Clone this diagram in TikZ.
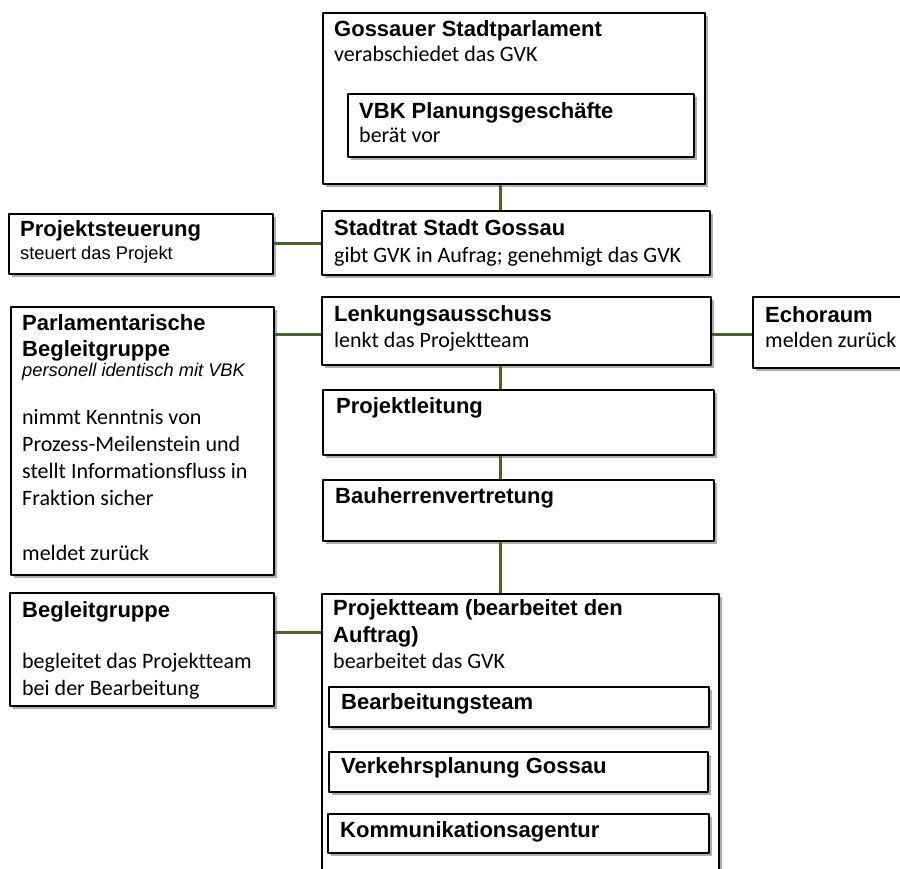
\documentclass[tikz,border=0pt]{standalone}
\usepackage{fontspec}
\setmainfont{Carlito}[Ligatures=NoCommon]
\newfontfamily\arialf{Liberation Sans}[Ligatures=NoCommon]
\usetikzlibrary{shadows}
\definecolor{linkgreen}{RGB}{79,98,40}
\tikzset{
  box/.style={draw, rectangle, line width=1.8pt, fill=white, inner sep=0pt, anchor=north west,
    drop shadow={shadow xshift=3pt, shadow yshift=-3pt, fill=black!45, opacity=.7}},
  head/.style={font=\arialf\bfseries\fontsize{22}{25}\selectfont, inner sep=0pt, anchor=base west},
  txt/.style={font=\fontsize{22}{27}\selectfont, inner sep=0pt, anchor=base west},
  small/.style={font=\arialf\fontsize{18.3}{21}\selectfont, inner sep=0pt, anchor=base west},
  link/.style={draw=linkgreen, line width=3pt}
}
\begin{document}
\begin{tikzpicture}[x=1pt, y=-1pt, line join=round]
  \useasboundingbox (0,0) rectangle (900,868);
  \path
    (500,0) coordinate (axis)
    (0,334) coordinate (lkY)
    (0,632) coordinate (bgY)
    ;
  % boxes
  \node[box, minimum width=382pt, minimum height=171pt] (parlament) at (322,12) {};
  \node[box, minimum width=346pt, minimum height=63pt] (vbk) at (347,93) {};
  \node[box, minimum width=388pt, minimum height=64pt] (stadtrat) at (321,210) {};
  \node[box, minimum width=264pt, minimum height=60pt] (steuerung) at (8,213) {};
  \node[box, minimum width=389pt, minimum height=68pt] (lenkung) at (321,296) {};
  \node[box, minimum width=263pt, minimum height=268pt] (parlbg) at (10,306) {};
  \node[box, minimum width=160pt, minimum height=71pt] (echo) at (752,296) {};
  \node[box, minimum width=391pt, minimum height=65pt] (leitung) at (322,389) {};
  \node[box, minimum width=391pt, minimum height=61pt] (bauherr) at (322,479) {};
  \node[box, minimum width=264pt, minimum height=113pt] (begleit) at (9,592) {};
  \node[box, minimum width=397pt, minimum height=290pt] (team) at (321,593) {};
  \node[box, minimum width=380pt, minimum height=40pt] (bearb) at (328,686) {};
  \node[box, minimum width=379pt, minimum height=40pt] (verkehr) at (328,751) {};
  \node[box, minimum width=381pt, minimum height=39pt] (komm) at (327,813) {};
  % texts
  \node[head] (parlamentH) at (334,36) {Gossauer Stadtparlament};
  \node[txt] (parlamentT) at (334,61) {verabschiedet das GVK};
  \node[head] (vbkH) at (359,118) {VBK Planungsgeschäfte};
  \node[txt] (vbkT) at (359,142) {berät vor};
  \node[head] (stadtratH) at (334,235) {Stadtrat Stadt Gossau};
  \node[txt] (stadtratT) at (334,262) {gibt GVK in Aufrag; genehmigt das GVK};
  \node[head] (steuerungH) at (20,236) {Projektsteuerung};
  \node[small] (steuerungT) at (20,259) {steuert das Projekt};
  \node[head] (lenkungH) at (334,321) {Lenkungsausschuss};
  \node[txt] (lenkungT) at (334,347) {lenkt das Projektteam};
  \node[head] (parlbgH1) at (22,330) {Parlamentarische};
  \node[head] (parlbgH2) at (22,356) {Begleitgruppe};
  \node[small, font=\arialf\itshape\fontsize{18.3}{21}\selectfont] (parlbgI) at (22,376) {personell identisch mit VBK};
  \node[txt] (parlbgT1) at (22,424) {nimmt Kenntnis von};
  \node[txt] (parlbgT2) at (22,451) {Prozess-Meilenstein und};
  \node[txt] (parlbgT3) at (22,478) {stellt Informationsfluss in};
  \node[txt] (parlbgT4) at (22,505) {Fraktion sicher};
  \node[txt] (parlbgT5) at (22,560) {meldet zurück};
  \node[head] (echoH) at (765,322) {Echoraum};
  \node[txt] (echoT) at (765,347) {melden zurück};
  \node[head] (leitungH) at (336,413) {Projektleitung};
  \node[head] (bauherrH) at (335,503) {Bauherrenvertretung};
  \node[head] (begleitH) at (22,617) {Begleitgruppe};
  \node[txt] (begleitT1) at (22,668) {begleitet das Projektteam};
  \node[txt] (begleitT2) at (22,695) {bei der Bearbeitung};
  \node[head] (teamH1) at (333,615) {Projektteam (bearbeitet den};
  \node[head] (teamH2) at (333,642) {Auftrag)};
  \node[txt] (teamT) at (333,668) {bearbeitet das GVK};
  \node[head] (bearbH) at (341,709) {Bearbeitungsteam};
  \node[head] (verkehrH) at (341,773) {Verkehrsplanung Gossau};
  \node[head] (kommH) at (340,837) {Kommunikationsagentur};
  % links
  \draw[link] (axis |- parlament.south) -- (axis |- stadtrat.north);
  \draw[link] (axis |- lenkung.south) -- (axis |- leitung.north);
  \draw[link] (axis |- leitung.south) -- (axis |- bauherr.north);
  \draw[link] (axis |- bauherr.south) -- (axis |- team.north);
  \draw[link] (steuerung.east) -- (steuerung.east -| stadtrat.west);
  \draw[link] (parlbg.east |- lkY) -- (lenkung.west |- lkY);
  \draw[link] (lenkung.east |- lkY) -- (echo.west |- lkY);
  \draw[link] (begleit.east |- bgY) -- (team.west |- bgY);
\end{tikzpicture}
\end{document}
